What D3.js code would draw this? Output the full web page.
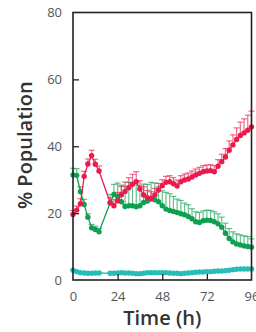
<!DOCTYPE html>
<html>
<head>
<meta charset="utf-8">
<script src="https://cdn.jsdelivr.net/npm/d3@7"></script>
<style>
  body { margin: 0; background: #fff; }
  svg { display: block; }
  .tick-label { font-family: "Open Sans", sans-serif; font-size: 13px; fill: #555; }
  .axis-title { font-family: "Open Sans", sans-serif; font-size: 20px; font-weight: 600; fill: #333; }
</style>
</head>
<body>
<div id="graph"></div>
<script>
  // sampling times (h) - there is a gap between 14 and 20
  const time_h = [0, 2, 4, 6, 8, 10, 12, 14,
    20, 22, 24, 26, 28, 30, 32, 34, 36, 38, 40, 42, 44, 46, 48, 50, 52, 54, 56, 58,
    60, 62, 64, 66, 68, 70, 72, 74, 76, 78, 80, 82, 84, 86, 88, 90, 92, 94, 96];

  const red_vals = [19.6, 20.9, 22.8, 31.0, 34.7, 37.2, 34.6, 32.6,
    23.1, 22.2, 23.7, 25.5, 26.5, 27.6, 28.6, 29.4, 27.2, 25.4, 24.6, 24.4, 25.4, 26.9, 28.2, 29.2, 29.4, 28.8, 28.1, 29.4,
    29.9, 30.2, 30.8, 31.4, 31.9, 32.4, 32.6, 32.7, 32.4, 34.0, 35.4, 36.8, 38.8, 40.4, 42.0, 43.2, 44.0, 44.8, 45.8];
  const red_err = [1.2, 1.2, 1.5, 1.5, 1.5, 1.6, 1.5, 1.5,
    1.5, 1.8, 2.5, 2.5, 2.8, 3.0, 3.0, 3.0, 2.5, 2.5, 2.2, 2.0, 2.0, 2.0, 1.8, 1.8, 1.8, 1.8, 1.8, 1.8,
    1.8, 1.8, 1.8, 1.8, 1.8, 1.8, 1.8, 1.8, 1.8, 2.0, 2.2, 2.5, 2.8, 3.0, 3.5, 4.0, 4.2, 4.5, 4.7];

  const green_vals = [31.4, 31.3, 26.4, 22.6, 18.8, 15.6, 15.1, 14.4,
    23.1, 25.6, 25.0, 23.4, 22.0, 22.2, 22.2, 21.9, 22.2, 23.2, 23.6, 24.2, 24.0, 23.4, 22.2, 21.2, 20.8, 20.5, 20.2, 19.8,
    19.5, 19.0, 18.3, 17.4, 17.2, 17.7, 17.9, 17.8, 17.4, 16.8, 15.8, 14.0, 12.4, 11.4, 10.8, 10.5, 10.2, 10.0, 9.8];
  const green_err = [2.0, 2.0, 1.5, 1.5, 1.0, 1.0, 1.0, 1.0,
    2.5, 3.0, 4.0, 5.0, 6.0, 7.0, 7.0, 7.5, 6.0, 5.5, 5.0, 5.0, 5.0, 4.5, 4.5, 5.0, 5.0, 4.5, 4.0, 4.0,
    3.5, 3.5, 3.0, 3.0, 3.0, 3.0, 3.0, 3.0, 3.0, 3.0, 3.0, 3.0, 3.0, 3.0, 3.0, 3.0, 3.0, 3.0, 2.5];

  const cyan_vals = [2.9, 2.5, 2.2, 2.1, 2.0, 2.0, 2.1, 2.1,
    2.0, 2.0, 2.1, 2.2, 2.1, 2.1, 2.0, 1.9, 1.9, 2.0, 2.2, 2.2, 2.2, 2.2, 2.2, 2.2, 2.1, 2.0, 2.0, 1.9,
    2.0, 2.1, 2.2, 2.3, 2.4, 2.4, 2.5, 2.5, 2.6, 2.7, 2.7, 2.8, 2.9, 3.1, 3.2, 3.3, 3.3, 3.3, 3.3];
  const cyan_err = time_h.map(() => 0.3);

  const x_ticks = [0, 24, 48, 72, 96];
  const y_ticks = [0, 20, 40, 60, 80];

  const series = [
    {name: "cyan", color: "#27bdb6", vals: cyan_vals, err: cyan_err},
    {name: "green", color: "#0f9f50", vals: green_vals, err: green_err},
    {name: "red", color: "#ea1b4c", vals: red_vals, err: red_err}
  ];

  const width = 256;
  const height = 332;
  const margin = ({top: 12.5, right: 4.5, bottom: 52, left: 73});

  let svg = d3.select("#graph").append("svg")
    .attr("width", width)
    .attr("height", height);

  let x = d3.scaleLinear().domain([0, 96]).range([margin.left, width - margin.right]);
  let y = d3.scaleLinear().domain([0, 80]).range([height - margin.bottom, margin.top]);

  // error bars first (upper only, with caps)
  series.forEach(function(s) {
    let g = svg.append("g")
      .attr("class", "err " + s.name)
      .attr("stroke", s.color)
      .attr("stroke-opacity", 0.65)
      .attr("stroke-width", 1.2);
    g.selectAll("line.v").data(time_h).enter().append("line")
      .attr("class", "v")
      .attr("x1", d => x(d)).attr("x2", d => x(d))
      .attr("y1", (d, i) => y(s.vals[i]))
      .attr("y2", (d, i) => y(s.vals[i] + s.err[i]));
    g.selectAll("line.c").data(time_h).enter().append("line")
      .attr("class", "c")
      .attr("x1", d => x(d) - 3).attr("x2", d => x(d) + 3)
      .attr("y1", (d, i) => y(s.vals[i] + s.err[i]))
      .attr("y2", (d, i) => y(s.vals[i] + s.err[i]));
  });

  // lines + markers
  series.forEach(function(s) {
    let pts = time_h.map((t, i) => [t, s.vals[i]]);
    svg.append("path")
      .datum(pts)
      .attr("fill", "none")
      .attr("stroke", s.color)
      .attr("stroke-width", 1.3)
      .attr("d", d3.line().x(d => x(d[0])).y(d => y(d[1])));
    svg.append("g")
      .selectAll("circle")
      .data(pts)
      .enter()
      .append("circle")
      .attr("cx", d => x(d[0]))
      .attr("cy", d => y(d[1]))
      .attr("r", 2.7)
      .attr("fill", s.color);
  });

  // frame
  svg.append("rect")
    .attr("x", x(0)).attr("y", y(80))
    .attr("width", x(96) - x(0)).attr("height", y(0) - y(80))
    .attr("fill", "none")
    .attr("stroke", "#222")
    .attr("stroke-width", 1.6);

  // axes with inward ticks
  let y_axis = d3.axisLeft(y).tickValues(y_ticks).tickSizeInner(-6).tickSizeOuter(0).tickPadding(11);
  let gy = svg.append("g")
    .attr("transform", `translate(${x(0)},0)`)
    .call(y_axis);
  let x_axis = d3.axisBottom(x).tickValues(x_ticks).tickSizeInner(-6).tickSizeOuter(0).tickPadding(12);
  let gx = svg.append("g")
    .attr("transform", `translate(0,${y(0)})`)
    .call(x_axis);
  [gx, gy].forEach(function(g) {
    g.select(".domain").remove();
    g.selectAll(".tick line").attr("stroke", "#222").attr("stroke-width", 1.3);
    g.selectAll(".tick text").attr("class", "tick-label").attr("fill", null);
  });
  gy.selectAll(".tick").filter(d => d === 0 || d === 80).select("line").remove();
  gx.selectAll(".tick").filter(d => d === 0 || d === 96).select("line").remove();

  svg.append("text")
    .attr("class", "axis-title")
    .attr("x", x(48))
    .attr("y", 325)
    .style("text-anchor", "middle")
    .text("Time (h)");

  svg.append("text")
    .attr("class", "axis-title")
    .attr("transform", `translate(32,${y(40) - 1}) rotate(-90)`)
    .style("text-anchor", "middle")
    .text("% Population");
</script>
</body>
</html>
